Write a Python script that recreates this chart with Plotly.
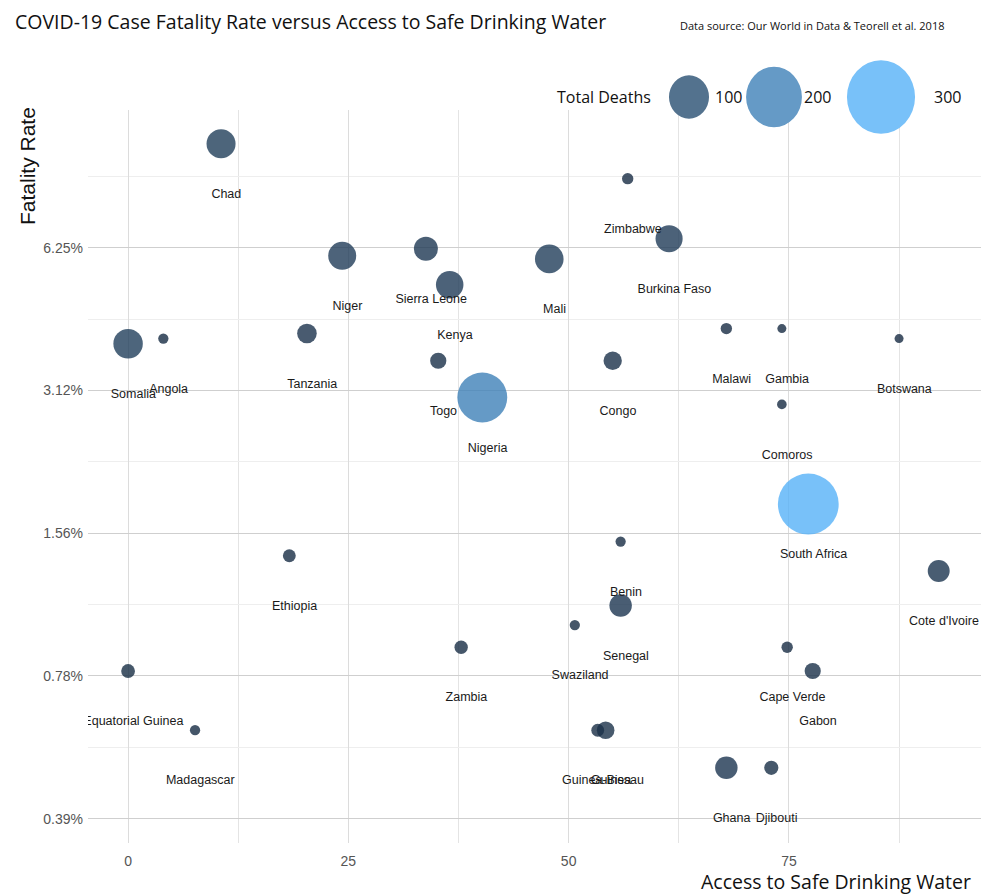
import math
import plotly.graph_objects as go

# ---------------- data ----------------
countries = ["Chad", "Niger", "Sierra Leone", "Kenya", "Somalia", "Angola", "Tanzania", "Togo",
             "Nigeria", "Zimbabwe", "Burkina Faso", "Mali", "Congo", "Malawi", "Gambia", "Botswana",
             "Comoros", "South Africa", "Benin", "Cote d'Ivoire", "Senegal", "Swaziland", "Zambia",
             "Cape Verde", "Gabon", "Equatorial Guinea", "Madagascar", "Guinea-Bissau", "Guinea",
             "Ghana", "Djibouti", "Ethiopia"]
water_access = [10.55, 24.3, 33.8, 36.5, 0.0, 4.0, 20.3, 35.2,
                40.2, 56.7, 61.4, 47.8, 55.0, 67.9, 74.2, 87.5,
                74.2, 77.2, 55.9, 92.0, 55.9, 50.7, 37.8,
                74.8, 77.7, 0.0, 7.6, 53.3, 54.2,
                67.9, 73.0, 18.3]
fatality_pct = [10.36, 6.01, 6.22, 5.22, 3.92, 4.02, 4.12, 3.61,
                3.02, 8.74, 6.53, 5.92, 3.61, 4.22, 4.22, 4.02,
                2.92, 1.80, 1.50, 1.30, 1.10, 1.00, 0.898,
                0.898, 0.80, 0.80, 0.60, 0.60, 0.60,
                0.50, 0.50, 1.40]
total_deaths = [64, 59, 42, 57, 66, 3, 26, 16,
                200, 5, 55, 62, 22, 5, 1, 1,
                2, 300, 3, 34, 36, 3, 9,
                5, 16, 10, 3, 8, 20,
                36, 11, 8]

y_tick_vals = [0.390625, 0.78125, 1.5625, 3.125, 6.25]
y_tick_text = ["0.39%", "0.78%", "1.56%", "3.12%", "6.25%"]
x_tick_vals = [0, 25, 50, 75]
legend_deaths = [100, 200, 300]

# ---------------- geometry ----------------
W, H = 981, 895
L, R, T, B = 88, 0, 110, 52
PW, PH = W - L - R, H - T - B

def px2x(px):
    return (px - L) / PW

def py2y(py):
    return (H - B - py) / PH

def radius(d):
    # area-proportional size scale (px)
    return math.sqrt(17.2 + 3.025 * d)

sizes = [2 * radius(d) for d in total_deaths]

colorscale = [[0.0, "#172B42"], [0.25, "#22415F"], [0.5, "#336A98"],
              [0.75, "#448DC8"], [1.0, "#56B1F7"]]
CMIN, CMAX = 1, 300
ALPHA = 0.8

def hex2rgb(h):
    h = h.lstrip("#")
    return [int(h[i:i + 2], 16) for i in (0, 2, 4)]

def scale_color(d):
    t = (d - CMIN) / (CMAX - CMIN)
    t = max(0, min(1, t))
    for (t0, c0), (t1, c1) in zip(colorscale[:-1], colorscale[1:]):
        if t <= t1:
            f = (t - t0) / (t1 - t0) if t1 > t0 else 0
            a, b = hex2rgb(c0), hex2rgb(c1)
            rgb = [a[i] + (b[i] - a[i]) * f for i in range(3)]
            blended = [ALPHA * v + (1 - ALPHA) * 255 for v in rgb]
            return "rgb(%d,%d,%d)" % tuple(int(round(v)) for v in blended)
    return colorscale[-1][1]

# label nudge (like geom_text nudge)
NUDGE_X = 0.6
NUDGE_Y_FACTOR = 2 ** (-51 / 142.75)

fig = go.Figure()

fig.add_trace(go.Scatter(
    x=water_access, y=fatality_pct, mode="markers",
    marker=dict(size=sizes, sizemode="diameter", color=total_deaths,
                colorscale=colorscale, cmin=CMIN, cmax=CMAX, opacity=ALPHA,
                line=dict(width=0), showscale=False),
    text=countries, hoverinfo="text", showlegend=False))

fig.add_trace(go.Scatter(
    x=[x + NUDGE_X for x in water_access],
    y=[y * NUDGE_Y_FACTOR for y in fatality_pct],
    mode="text", text=countries, textposition="middle center",
    textfont=dict(family="Liberation Sans, Arial, sans-serif", size=12.5, color="#1a1a1a"),
    hoverinfo="skip", showlegend=False, cliponaxis=True))

# ---------------- legend (manual) ----------------
shapes = []
annotations = []
LEG_SCALE = 1.12
leg_centers_px = [689, 774, 881]
leg_text_px = [713, 802, 932]
leg_y = 97
for d, cx, tx in zip(legend_deaths, leg_centers_px, leg_text_px):
    r = radius(d) * LEG_SCALE
    shapes.append(dict(type="circle", xref="paper", yref="paper",
                       xsizemode="pixel", ysizemode="pixel",
                       xanchor=px2x(cx), yanchor=py2y(leg_y),
                       x0=-r, x1=r, y0=-r * 1.08, y1=r * 1.08,
                       fillcolor=scale_color(d), line=dict(width=0), layer="above"))
    annotations.append(dict(text=str(d), xref="paper", yref="paper",
                            x=px2x(tx), y=py2y(leg_y), xanchor="left", yanchor="middle",
                            showarrow=False,
                            font=dict(family="Open Sans, sans-serif", size=16, color="#111111")))
annotations.append(dict(text="Total Deaths", xref="paper", yref="paper",
                        x=px2x(653), y=py2y(leg_y), xanchor="right", yanchor="middle",
                        showarrow=False,
                        font=dict(family="Open Sans, sans-serif", size=16, color="#111111")))

# titles
annotations.append(dict(text="COVID-19 Case Fatality Rate versus Access to Safe Drinking Water",
                        xref="paper", yref="paper", x=px2x(13), y=py2y(21),
                        xanchor="left", yanchor="middle", showarrow=False,
                        font=dict(family="Open Sans, sans-serif", size=19.5, color="#111111")))
annotations.append(dict(text="Data source: Our World in Data &amp; Teorell et al. 2018",
                        xref="paper", yref="paper", x=px2x(678), y=py2y(25),
                        xanchor="left", yanchor="middle", showarrow=False,
                        font=dict(family="Open Sans, sans-serif", size=11, color="#111111")))
annotations.append(dict(text="Fatality Rate", xref="paper", yref="paper",
                        x=px2x(27), y=py2y(166), xanchor="center", yanchor="middle",
                        textangle=-90, showarrow=False,
                        font=dict(family="Liberation Sans, Arial, sans-serif", size=21, color="#111111")))
annotations.append(dict(text="Access to Safe Drinking Water", xref="paper", yref="paper",
                        x=px2x(973), y=py2y(881), xanchor="right", yanchor="middle",
                        showarrow=False,
                        font=dict(family="Open Sans, sans-serif", size=19.5, color="#111111")))

tickfont = dict(family="Liberation Sans Narrow, Arial Narrow, Liberation Sans, sans-serif",
                size=14, color="#555555")

fig.update_layout(
    width=W, height=H,
    margin=dict(l=L, r=R, t=T, b=B, pad=0),
    paper_bgcolor="white", plot_bgcolor="white",
    shapes=shapes, annotations=annotations,
    showlegend=False,
    xaxis=dict(range=[-4.55, 96.8], tickvals=x_tick_vals,
               ticktext=[str(v) for v in x_tick_vals],
               showgrid=True, gridcolor="#dcdcdc", gridwidth=1,
               minor=dict(tickvals=[12.5, 37.5, 62.5, 87.5], showgrid=True,
                          gridcolor="#e4e4e4", gridwidth=1, ticks=""),
               zeroline=False, showline=False, ticks="", tickfont=tickfont,
               ticklabelstandoff=8),
    yaxis=dict(type="log", range=[math.log10(0.347), math.log10(12.2)],
               tickvals=y_tick_vals, ticktext=y_tick_text,
               showgrid=True, gridcolor="#cfcfcf", gridwidth=1,
               minor=dict(tickvals=[v * math.sqrt(2) for v in y_tick_vals], showgrid=True,
                          gridcolor="#eeeeee", gridwidth=1, ticks=""),
               zeroline=False, showline=False, ticks="", tickfont=tickfont,
               ticklabelstandoff=4),
)

fig.write_html("out.html", config={"displayModeBar": False},
               post_script="document.body.style.margin='0';document.body.style.overflow='hidden';")
